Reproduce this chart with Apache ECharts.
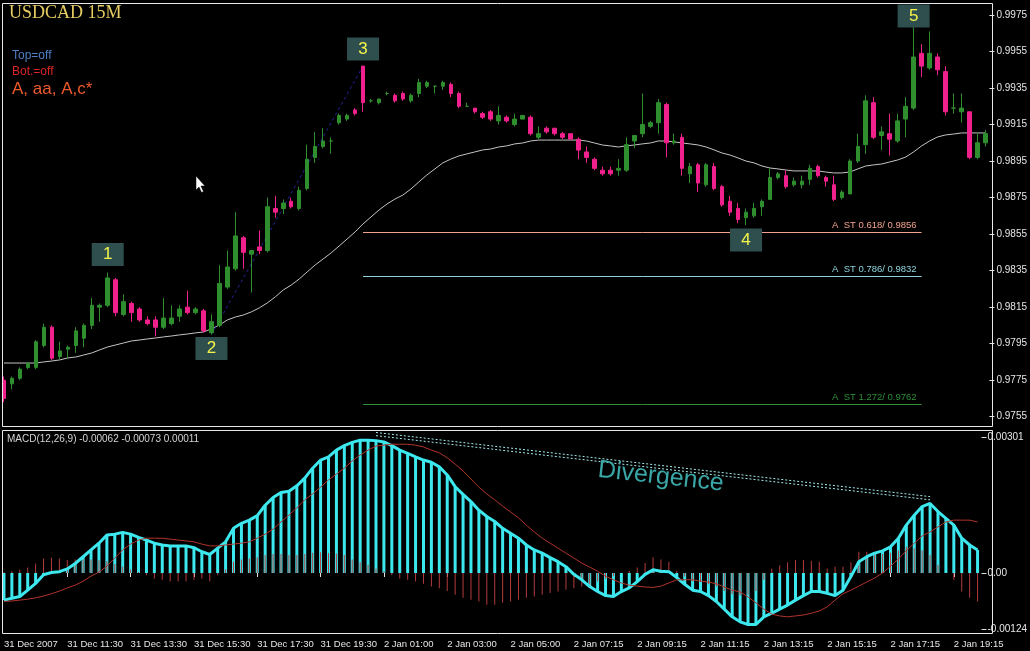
<!DOCTYPE html>
<html>
<head>
<meta charset="utf-8">
<title>USDCAD 15M</title>
<script src="https://cdn.jsdelivr.net/npm/echarts@6/dist/echarts.min.js"></script>
<style>
  html, body { margin: 0; padding: 0; background: #000; }
  #chart { width: 1030px; height: 651px; }
</style>
</head>
<body>
<div id="chart"></div>
<script>
// ---- data ----
var opens = [
  0.9775,0.9773,0.9776,0.9782,0.9782,0.9794,0.9804,0.9788,0.9792,0.9794,
  0.9798,0.9805,0.9815,0.9816,0.9830,0.9811,0.9817,0.9814,0.9808,0.9808,
  0.9804,0.9806,0.9810,0.9815,0.9812,0.9813,0.9801,0.9805,0.9826,0.9836,
  0.9853,0.9844,0.9848,0.9846,0.9869,0.9869,0.9873,0.9869,0.9880,0.9897,
  0.9903,0.9906,0.9916,0.9918,0.9923,0.9947,0.9928,0.9927,0.9932,0.9931,
  0.9932,0.9928,0.9932,0.9936,0.9936,0.9936,0.9937,0.9932,0.9925,0.9924,
  0.9921,0.9922,0.9917,0.9919,0.9915,0.9918,0.9919,0.9908,0.9913,0.9913,
  0.9910,0.9910,0.9907,0.9900,0.9896,0.9890,0.9890,0.9890,0.9890,0.9906,
  0.9910,0.9914,0.9916,0.9926,0.9905,0.9908,0.9888,0.9893,0.9882,0.9892,
  0.9881,0.9873,0.9869,0.9864,0.9865,0.9870,0.9874,0.9886,0.9887,0.9882,
  0.9882,0.9885,0.9892,0.9886,0.9882,0.9875,0.9877,0.9895,0.9904,0.9927,
  0.9909,0.9910,0.9906,0.9918,0.9924,0.9954,0.9946,0.9952,0.9944,0.9924,
  0.9922,0.9922,0.9897,0.9905
];
var highs = [
  0.9777,0.9777,0.9782,0.9785,0.9797,0.9806,0.9805,0.9796,0.9794,0.9804,
  0.9806,0.9820,0.9817,0.9834,0.9831,0.9822,0.9818,0.9815,0.9810,0.9810,
  0.9820,0.9816,0.9816,0.9824,0.9815,0.9814,0.9811,0.9838,0.9846,0.9867,
  0.9854,0.9846,0.9857,0.9875,0.9876,0.9874,0.9875,0.9881,0.9904,0.9911,
  0.9913,0.9908,0.9921,0.9921,0.9924,0.9947,0.9929,0.9929,0.9933,0.9932,
  0.9933,0.9932,0.9940,0.9939,0.9936,0.9939,0.9938,0.9933,0.9927,0.9924,
  0.9922,0.9923,0.9925,0.9920,0.9921,0.9920,0.9920,0.9914,0.9914,0.9913,
  0.9911,0.9910,0.9908,0.9903,0.9897,0.9892,0.9892,0.9896,0.9908,0.9909,
  0.9932,0.9917,0.9929,0.9927,0.9910,0.9910,0.9894,0.9894,0.9894,0.9894,
  0.9882,0.9876,0.9872,0.9869,0.9872,0.9874,0.9891,0.9889,0.9890,0.9886,
  0.9887,0.9893,0.9893,0.9887,0.9887,0.9879,0.9896,0.9910,0.9931,0.9930,
  0.9914,0.9921,0.9921,0.9930,0.9969,0.9959,0.9966,0.9954,0.9947,0.9932,
  0.9932,0.9922,0.9910,0.9912
];
var lows = [
  0.9763,0.9770,0.9775,0.9781,0.9781,0.9793,0.9786,0.9786,0.9787,0.9790,
  0.9793,0.9803,0.9807,0.9815,0.9810,0.9810,0.9807,0.9807,0.9805,0.9799,
  0.9803,0.9805,0.9807,0.9811,0.9811,0.9801,0.9800,0.9804,0.9825,0.9835,
  0.9836,0.9823,0.9844,0.9845,0.9864,0.9866,0.9869,0.9868,0.9879,0.9894,
  0.9902,0.9899,0.9915,0.9917,0.9920,0.9922,0.9927,0.9926,0.9931,0.9927,
  0.9928,0.9927,0.9930,0.9935,0.9932,0.9934,0.9930,0.9924,0.9925,0.9921,
  0.9918,0.9917,0.9915,0.9916,0.9914,0.9918,0.9909,0.9907,0.9910,0.9909,
  0.9907,0.9907,0.9896,0.9894,0.9890,0.9887,0.9887,0.9887,0.9889,0.9902,
  0.9908,0.9913,0.9910,0.9897,0.9904,0.9887,0.9883,0.9878,0.9881,0.9879,
  0.9870,0.9865,0.9861,0.9860,0.9864,0.9865,0.9874,0.9885,0.9880,0.9881,
  0.9880,0.9882,0.9886,0.9881,0.9873,0.9874,0.9877,0.9894,0.9899,0.9907,
  0.9901,0.9898,0.9905,0.9908,0.9923,0.9941,0.9945,0.9942,0.9920,0.9921,
  0.9916,0.9896,0.9896,0.9903
];
var closes = [
  0.9765,0.9776,0.9781,0.9784,0.9796,0.9804,0.9787,0.9791,0.9793,0.9802,
  0.9805,0.9816,0.9816,0.9831,0.9812,0.9818,0.9812,0.9808,0.9806,0.9804,
  0.9809,0.9809,0.9814,0.9812,0.9814,0.9802,0.9807,0.9828,0.9837,0.9854,
  0.9845,0.9846,0.9846,0.9870,0.9867,0.9872,0.9870,0.9879,0.9896,0.9903,
  0.9906,0.9906,0.9920,0.9920,0.9921,0.9927,0.9928,0.9929,0.9932,0.9928,
  0.9929,0.9931,0.9938,0.9938,0.9936,0.9938,0.9932,0.9925,0.9925,0.9922,
  0.9919,0.9918,0.9920,0.9917,0.9918,0.9920,0.9910,0.9910,0.9911,0.9910,
  0.9908,0.9907,0.9901,0.9897,0.9891,0.9888,0.9888,0.9891,0.9904,0.9909,
  0.9915,0.9916,0.9927,0.9905,0.9906,0.9891,0.9892,0.9883,0.9893,0.9880,
  0.9871,0.9867,0.9863,0.9867,0.9869,0.9873,0.9886,0.9888,0.9881,0.9884,
  0.9884,0.9891,0.9887,0.9884,0.9874,0.9878,0.9895,0.9903,0.9928,0.9908,
  0.9911,0.9907,0.9917,0.9925,0.9952,0.9947,0.9954,0.9945,0.9922,0.9924,
  0.9924,0.9897,0.9905,0.9910
];
// moving average (grey line)
var ma = [
  0.97844,0.97844,0.97844,0.97844,0.97844,0.97850,0.97855,0.97861,0.97872,0.97877,
  0.97888,0.97899,0.97916,0.97932,0.97943,0.97954,0.97965,0.97970,0.97976,0.97981,
  0.97987,0.97992,0.97998,0.98003,0.98009,0.98014,0.98031,0.98052,0.98080,0.98096,
  0.98107,0.98124,0.98146,0.98173,0.98206,0.98244,0.98271,0.98304,0.98343,0.98381,
  0.98414,0.98447,0.98485,0.98523,0.98562,0.98606,0.98644,0.98682,0.98715,0.98742,
  0.98764,0.98797,0.98836,0.98874,0.98907,0.98940,0.98961,0.98978,0.98989,0.99000,
  0.99011,0.99016,0.99027,0.99033,0.99044,0.99049,0.99060,0.99065,0.99065,0.99065,
  0.99065,0.99065,0.99065,0.99060,0.99049,0.99038,0.99033,0.99027,0.99033,0.99038,
  0.99044,0.99049,0.99060,0.99060,0.99055,0.99049,0.99044,0.99038,0.99027,0.99011,
  0.98994,0.98983,0.98967,0.98950,0.98940,0.98923,0.98912,0.98907,0.98901,0.98896,
  0.98896,0.98896,0.98896,0.98890,0.98885,0.98885,0.98890,0.98907,0.98923,0.98929,
  0.98934,0.98945,0.98956,0.98972,0.99000,0.99033,0.99060,0.99082,0.99093,0.99098,
  0.99104,0.99104,0.99104,0.99104
];
var macd = [
  -0.00060,-0.00056,-0.00052,-0.00038,-0.00023,-0.00004,0.00001,0.00003,0.00009,0.00021,
  0.00036,0.00051,0.00066,0.00084,0.00086,0.00090,0.00086,0.00079,0.00073,0.00066,
  0.00062,0.00060,0.00060,0.00060,0.00056,0.00047,0.00041,0.00055,0.00069,0.00099,
  0.00110,0.00117,0.00127,0.00150,0.00167,0.00178,0.00181,0.00193,0.00210,0.00232,
  0.00250,0.00257,0.00272,0.00282,0.00289,0.00294,0.00294,0.00293,0.00290,0.00282,
  0.00272,0.00265,0.00257,0.00250,0.00245,0.00235,0.00217,0.00191,0.00174,0.00158,
  0.00139,0.00125,0.00114,0.00099,0.00088,0.00077,0.00062,0.00051,0.00044,0.00034,
  0.00025,0.00014,-0.00003,-0.00015,-0.00030,-0.00041,-0.00050,-0.00052,-0.00041,-0.00033,
  -0.00019,-0.00003,0.00007,0.00004,0.00003,-0.00010,-0.00025,-0.00038,-0.00041,-0.00050,
  -0.00063,-0.00080,-0.00097,-0.00108,-0.00114,-0.00114,-0.00097,-0.00089,-0.00080,-0.00071,
  -0.00060,-0.00050,-0.00041,-0.00041,-0.00045,-0.00050,-0.00038,-0.00008,0.00025,0.00036,
  0.00044,0.00049,0.00058,0.00077,0.00106,0.00128,0.00147,0.00154,0.00136,0.00121,
  0.00106,0.00077,0.00062,0.00051
];
var signal = [
  -0.00063,-0.00062,-0.00060,-0.00058,-0.00055,-0.00051,-0.00046,-0.00040,-0.00033,-0.00027,
  -0.00018,-0.00007,0.00002,0.00015,0.00033,0.00051,0.00064,0.00073,0.00077,0.00077,
  0.00077,0.00075,0.00073,0.00071,0.00069,0.00064,0.00060,0.00060,0.00062,0.00064,
  0.00066,0.00069,0.00077,0.00086,0.00097,0.00113,0.00128,0.00144,0.00162,0.00175,
  0.00190,0.00206,0.00219,0.00232,0.00248,0.00261,0.00272,0.00281,0.00283,0.00285,
  0.00285,0.00285,0.00283,0.00279,0.00272,0.00266,0.00255,0.00241,0.00226,0.00208,
  0.00190,0.00175,0.00162,0.00148,0.00135,0.00122,0.00106,0.00091,0.00077,0.00066,
  0.00055,0.00044,0.00033,0.00022,0.00013,0.00004,-0.00007,-0.00015,-0.00022,-0.00027,
  -0.00029,-0.00031,-0.00032,-0.00029,-0.00022,-0.00015,-0.00015,-0.00015,-0.00018,-0.00020,
  -0.00024,-0.00031,-0.00038,-0.00042,-0.00053,-0.00066,-0.00080,-0.00091,-0.00095,-0.00097,
  -0.00095,-0.00093,-0.00089,-0.00084,-0.00075,-0.00060,-0.00046,-0.00038,-0.00029,-0.00020,
  -0.00011,0.00000,0.00015,0.00031,0.00049,0.00066,0.00082,0.00091,0.00102,0.00113,
  0.00117,0.00117,0.00117,0.00113
];
var osma = [
  0.00002,0.00004,0.00007,0.00012,0.00021,0.00032,0.00034,0.00032,0.00029,0.00030,
  0.00030,0.00030,0.00028,0.00026,0.00020,0.00014,0.00008,0.00002,-0.00005,-0.00013,
  -0.00015,-0.00019,-0.00019,-0.00018,-0.00015,-0.00013,-0.00018,-0.00005,0.00008,0.00025,
  0.00030,0.00032,0.00035,0.00040,0.00042,0.00042,0.00040,0.00040,0.00042,0.00045,
  0.00046,0.00044,0.00043,0.00040,0.00030,0.00024,0.00018,0.00010,0.00004,-0.00005,
  -0.00012,-0.00015,-0.00019,-0.00024,-0.00030,-0.00034,-0.00040,-0.00048,-0.00055,-0.00059,
  -0.00063,-0.00070,-0.00070,-0.00066,-0.00063,-0.00059,-0.00055,-0.00052,-0.00048,-0.00044,
  -0.00041,-0.00037,-0.00034,-0.00030,-0.00026,-0.00019,-0.00013,-0.00007,0.00000,0.00005,
  0.00012,0.00022,0.00035,0.00030,0.00025,0.00005,-0.00008,-0.00018,-0.00020,-0.00025,
  -0.00030,-0.00040,-0.00047,-0.00050,-0.00048,-0.00040,-0.00015,0.00010,0.00017,0.00024,
  0.00029,0.00029,0.00027,0.00025,0.00010,0.00014,0.00014,0.00024,0.00047,0.00047,
  0.00045,0.00042,0.00045,0.00050,0.00058,0.00055,0.00050,0.00040,0.00018,0.00000,
  -0.00015,-0.00041,-0.00055,-0.00063
];

var xTickLabels = ['31 Dec 2007','31 Dec 11:30','31 Dec 13:30','31 Dec 15:30','31 Dec 17:30',
  '31 Dec 19:30','2 Jan 01:00','2 Jan 03:00','2 Jan 05:00','2 Jan 07:15','2 Jan 09:15',
  '2 Jan 11:15','2 Jan 13:15','2 Jan 15:15','2 Jan 17:15','2 Jan 19:15'];
var priceTicks = [0.9975,0.9955,0.9935,0.9915,0.9895,0.9875,0.9855,0.9835,0.9815,0.9795,0.9775,0.9755];
var macdTicks = [0.00301, 0, -0.00124];

// wave count 1..5
var waveLabels = ['1','2','3','4','5'];
var waveBars = [13, 26, 45, 93, 114];
var wavePrices = [0.9834, 0.9800, 0.9947, 0.9860, 0.9969];
// fibo targets
var fibRatios = ['0.618','0.786','1.272'];
var fibLevels = [0.9856, 0.9832, 0.9762];
var fibFrom = 45, fibTo = 115;
// divergence trend line on the MACD window
var divBars = [47, 117];
var divValues = [0.00311, 0.00169];

// 15 minute bar times (market closed between 31 Dec 20:30 and 2 Jan 00:15, one bar missing at 05:15)
function hhmm(m) {
  var h = Math.floor(m / 60), mm = m % 60;
  return (h < 10 ? '0' : '') + h + ':' + (mm < 10 ? '0' : '') + mm;
}
var times = [];
for (var i = 0; i < opens.length; i++) {
  if (i <= 44) times.push('31 Dec ' + hhmm(570 + 15 * i));
  else if (i <= 64) times.push('2 Jan ' + hhmm(15 + 15 * (i - 45)));
  else times.push('2 Jan ' + hhmm(330 + 15 * (i - 65)));
}

var candles = opens.map(function (o, i) { return [o, closes[i], lows[i], highs[i]]; });

var UP = '#2f8f2f', DOWN = '#f0208c', AQUA = '#3ce8ee', SIGRED = '#b0342c';
var FONT = 'Liberation Sans';
var fibColors = ['#f2a38e', '#8fd4de', '#2f8f3a'];
var boxOffsets = [-18, 14, -17, 15, -10];

var chart = echarts.init(document.getElementById('chart'));
var option = {
  backgroundColor: '#000',
  animation: false,
  textStyle: { fontFamily: FONT },
  grid: [
    { left: -2, right: 40, top: 3, height: 424 },
    { left: -2, right: 40, top: 431, height: 202 }
  ],
  xAxis: [
    { type: 'category', gridIndex: 0, data: times, boundaryGap: true, show: false },
    {
      type: 'category', gridIndex: 1, data: times, boundaryGap: true,
      axisLine: { show: false },
      axisTick: { show: true, interval: 7, alignWithLabel: true, length: 4, inside: false, lineStyle: { color: '#e0e0e0' } },
      axisLabel: {
        interval: 7, align: 'left', margin: 6, color: '#e6e6e6', fontSize: 9.5, fontFamily: FONT,
        formatter: function (v, idx) { return xTickLabels[Math.round(idx / 8)] || ''; }
      }
    },
    { type: 'category', gridIndex: 1, data: times, boundaryGap: true, show: false }
  ],
  yAxis: [
    {
      type: 'value', gridIndex: 0, position: 'right', scale: true,
      min: 0.974936, max: 0.998157,
      splitLine: { show: false }, axisLine: { show: false },
      axisTick: { show: true, length: 5, customValues: priceTicks, lineStyle: { color: '#e0e0e0' } },
      axisLabel: { customValues: priceTicks, margin: 7, color: '#e6e6e6', fontSize: 10, fontFamily: FONT,
        formatter: function (v) { return v.toFixed(4); } }
    },
    {
      type: 'value', gridIndex: 1, position: 'right',
      min: -0.001328, max: 0.003143,
      splitLine: { show: false }, axisLine: { show: false },
      axisTick: { show: true, length: 5, customValues: macdTicks, lineStyle: { color: '#e0e0e0' } },
      axisLabel: { customValues: macdTicks, margin: 6, color: '#e6e6e6', fontSize: 10, fontFamily: FONT,
        formatter: function (v) { return v === 0 ? '0.00' : v.toFixed(5); } }
    }
  ],
  series: [
    {
      name: 'USDCAD', type: 'candlestick', xAxisIndex: 0, yAxisIndex: 0,
      data: candles, barWidth: 4,
      itemStyle: { color: UP, color0: DOWN, borderColor: UP, borderColor0: DOWN, borderColorDoji: UP, borderWidth: 1 },
      z: 3,
      markLine: {
        silent: true, symbol: ['none', 'none'],
        data: fibLevels.map(function (lv, k) {
          return [
            { coord: [fibFrom, lv], lineStyle: { color: fibColors[k], width: 1, type: 'solid' },
              label: { show: true, position: 'insideEndTop', distance: [5, 2], color: fibColors[k], fontSize: 9.5, fontFamily: FONT,
                formatter: 'A  ST ' + fibRatios[k] + '/ ' + lv.toFixed(4) } },
            { coord: [fibTo, lv] }
          ];
        })
      }
    },
    {
      name: 'MA', type: 'line', xAxisIndex: 0, yAxisIndex: 0, data: ma,
      showSymbol: false, symbol: 'none', lineStyle: { color: '#c4c4c4', width: 1 }, z: 2
    },
    {
      name: 'zigzag', type: 'line', xAxisIndex: 0, yAxisIndex: 0,
      data: [[waveBars[1], wavePrices[1]], [waveBars[2], wavePrices[2]]],
      symbol: 'none', lineStyle: { color: '#23239a', width: 1, type: [3, 3] }, z: 2
    },
    {
      name: 'waves', type: 'scatter', xAxisIndex: 0, yAxisIndex: 0, z: 5,
      symbol: 'rect', symbolSize: [32, 23],
      itemStyle: { color: '#2f4f4f', opacity: 1 },
      label: { show: true, position: 'inside', color: '#f4f44a', fontSize: 17, fontFamily: FONT,
        formatter: function (p) { return p.name; } },
      data: waveLabels.map(function (t, k) {
        return { name: t, value: [waveBars[k], wavePrices[k]], symbolOffset: [0, boxOffsets[k]] };
      })
    },
    {
      name: 'MACD bars', type: 'bar', xAxisIndex: 1, yAxisIndex: 1, data: macd,
      barWidth: 3, itemStyle: { color: AQUA }, z: 2
    },
    {
      name: 'OsMA', type: 'bar', xAxisIndex: 2, yAxisIndex: 1, data: osma,
      barWidth: 1, itemStyle: { color: '#b43c3c' }, z: 3
    },
    {
      name: 'MACD', type: 'line', xAxisIndex: 1, yAxisIndex: 1, data: macd,
      symbol: 'none', lineStyle: { color: AQUA, width: 3 }, z: 4
    },
    {
      name: 'Signal', type: 'line', xAxisIndex: 1, yAxisIndex: 1, data: signal,
      symbol: 'none', lineStyle: { color: SIGRED, width: 1 }, z: 5
    },
    {
      name: 'div1', type: 'line', xAxisIndex: 1, yAxisIndex: 1,
      data: [[divBars[0], divValues[0]], [divBars[1], divValues[1]]],
      symbol: 'none', lineStyle: { color: '#a6eeee', width: 1, type: [2, 2] }, z: 6
    },
    {
      name: 'div2', type: 'line', xAxisIndex: 1, yAxisIndex: 1,
      data: [[divBars[0], divValues[0] - 0.00007], [divBars[1], divValues[1] - 0.00007]],
      symbol: 'none', lineStyle: { color: '#a6eeee', width: 1, type: [2, 2] }, z: 6
    }
  ],
  graphic: [
    { type: 'rect', silent: true, z: 50, shape: { x: 2.5, y: 3.5, width: 990, height: 423 },
      style: { fill: 'none', stroke: '#e8e8e8', lineWidth: 1 } },
    { type: 'rect', silent: true, z: 50, shape: { x: 2.5, y: 430.5, width: 990, height: 203 },
      style: { fill: 'none', stroke: '#e8e8e8', lineWidth: 1 } },
    { type: 'text', silent: true, z: 60, x: 9, y: 4,
      style: { text: 'USDCAD 15M', fill: '#e6cd63', font: '18px "Liberation Serif"', verticalAlign: 'top' } },
    { type: 'text', silent: true, z: 60, x: 12, y: 50,
      style: { text: 'Top=off', fill: '#4f7fc6', font: '12px "Liberation Sans"', verticalAlign: 'top' } },
    { type: 'text', silent: true, z: 60, x: 12, y: 66,
      style: { text: 'Bot.=off', fill: '#dc2626', font: '12px "Liberation Sans"', verticalAlign: 'top' } },
    { type: 'text', silent: true, z: 60, x: 12, y: 81,
      style: { text: 'A, aa, A,c*', fill: '#ee5a2c', font: '17px "Liberation Sans"', verticalAlign: 'top' } },
    { type: 'text', silent: true, z: 60, x: 7, y: 434,
      style: { text: 'MACD(12,26,9) -0.00062 -0.00073 0.00011', fill: '#d4d4d4', font: '10px "Liberation Sans"', verticalAlign: 'top' } },
    { type: 'text', silent: true, z: 60, x: 598, y: 470, rotation: -0.11,
      style: { text: 'Divergence', fill: '#3aa6a6', font: '25px "Liberation Sans"', verticalAlign: 'middle' } },
    { type: 'polygon', silent: true, z: 60,
      shape: { points: [[196, 176], [196, 190], [199, 187], [201.5, 192.5], [203.5, 191.5], [201, 186], [205, 186]] },
      style: { fill: '#ffffff', stroke: '#000000', lineWidth: 0.5 } }
  ]
};
chart.setOption(option);
</script>
</body>
</html>
